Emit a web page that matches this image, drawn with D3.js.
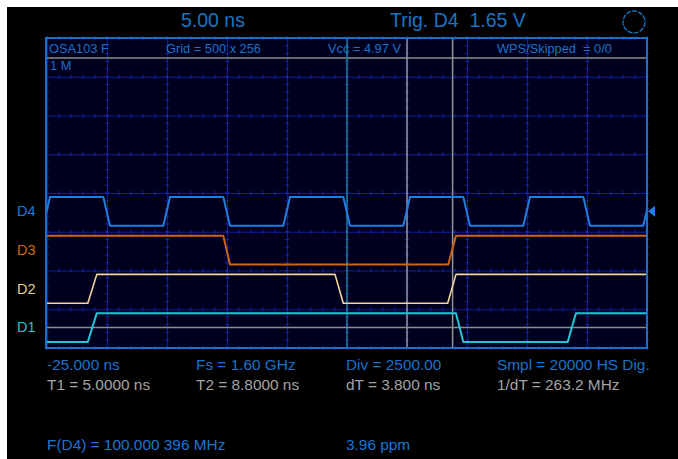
<!DOCTYPE html>
<html><head><meta charset="utf-8">
<script src="https://cdn.jsdelivr.net/npm/d3@7"></script>
<style>
html,body{margin:0;padding:0;background:#fff;}
svg{display:block;}
text{font-family:"Liberation Sans",Arial,sans-serif;}
</style></head><body>
<svg id="scope" width="678" height="459"></svg>
<script>
// Time base: 10 divisions of 5 ns, trigger at 0 ns
const timeDivisions = [-25, -20, -15, -10, -5, 0, 5, 10, 15, 20, 25];
const levelDivisions = [0, 1, 2, 3, 4, 5, 6, 7, 8];

// Digital channels, bottom to top
const channelNames = ["D1", "D2", "D3", "D4"];
const initialLevels = [0, 0, 1, 0];
// Logic transitions per channel: [start, end] in ns
const d1Edges = [[-21.60, -20.85], [9.08, 9.69], [18.39, 19.08]];
const d2Edges = [[-21.60, -20.85], [-1.00, -0.31], [8.39, 9.08]];
const d3Edges = [[-10.31, -9.75], [8.44, 9.08]];
const d4Edges = [[-25.31, -24.75], [-20.31, -19.75], [-15.31, -14.75], [-10.31, -9.75],
                 [-5.31, -4.75], [-0.31, 0.25], [4.69, 5.25], [9.69, 10.25],
                 [14.69, 15.25], [19.69, 20.25], [24.69, 25.25]];
const channelEdges = [d1Edges, d2Edges, d3Edges, d4Edges];

// Cursors (ns)
const cursorTimes = [5.0, 8.8];
const triggerTime = 0;

// Readout texts
const topTexts = ["5.00 ns", "Trig. D4  1.65 V"];
const statusTexts = ["OSA103 F", "Grid = 500 x 256", "Vcc = 4.97 V", "WPS/Skipped  = 0/0"];
const memoryText = "1 M";
const acqTexts = ["-25.000 ns", "Fs = 1.60 GHz", "Div = 2500.00", "Smpl = 20000 HS Dig."];
const cursorTexts = ["T1 = 5.0000 ns", "T2 = 8.8000 ns", "dT = 3.800 ns", "1/dT = 263.2 MHz"];
const freqTexts = ["F(D4) = 100.000 396 MHz", "3.96 ppm"];

// ---- layout ----
const plot = {left: 47, right: 647, top: 38, bottom: 348};
const lane = {low: 0.155, high: 0.9, mid: 0.53};
const colors = {
  D1: "#22c6d6", D2: "#f2d6a0", D3: "#cc6416", D4: "#1d7ee0"
};
const labelColors = {
  D1: "#22c8d2", D2: "#e6cc94", D3: "#d2680e", D4: "#1c7ad8"
};
const blueText = "#1a72c8";
const grayText = "#a4a4a4";

const svg = d3.select("#scope");
svg.append("rect").attr("x", 7).attr("y", 7).attr("width", 671).attr("height", 452).attr("fill", "#000");

const x = d3.scaleLinear().domain([-25, 25]).range([plot.left, plot.right]);
const y = d3.scaleLinear().domain([0, 8]).range([plot.bottom, plot.top]);

// screen background
svg.append("rect")
  .attr("x", plot.left).attr("y", plot.top)
  .attr("width", plot.right - plot.left).attr("height", plot.bottom - plot.top)
  .attr("fill", "#00001e");

// major grid through axes
const gridColor = "#0f1c96";
const vGrid = svg.append("g")
  .attr("transform", `translate(0,${plot.bottom})`)
  .call(d3.axisBottom(x).tickValues(timeDivisions).tickSize(-(plot.bottom - plot.top)).tickFormat(""));
const hGrid = svg.append("g")
  .attr("transform", `translate(${plot.left},0)`)
  .call(d3.axisLeft(y).tickValues(levelDivisions).tickSize(-(plot.right - plot.left)).tickFormat(""));
[vGrid, hGrid].forEach(g => {
  g.select(".domain").remove();
  g.selectAll(".tick line").attr("stroke", gridColor).attr("stroke-width", 1);
});

// minor ticks along every grid line (5 per division)
const minorT = d3.range(-25, 25.001, 1);
const minorV = d3.range(0, 8.001, 0.2);
const minor = svg.append("g").attr("stroke", "#1426a8").attr("stroke-width", 1);
levelDivisions.forEach(lv => {
  minor.selectAll(null).data(minorT).join("line")
    .attr("x1", d => x(d)).attr("x2", d => x(d))
    .attr("y1", y(lv) - 2).attr("y2", y(lv) + 2);
});
timeDivisions.forEach(tv => {
  minor.selectAll(null).data(minorV).join("line")
    .attr("x1", x(tv) - 2).attr("x2", x(tv) + 2)
    .attr("y1", d => y(d)).attr("y2", d => y(d));
});

// status bar separator
const statusLineY = 58;
svg.append("line")
  .attr("x1", plot.left).attr("x2", plot.right)
  .attr("y1", statusLineY).attr("y2", statusLineY)
  .attr("stroke", "#8c8c8c").attr("stroke-width", 1.5);

// trigger time line
svg.append("line")
  .attr("x1", x(triggerTime)).attr("x2", x(triggerTime))
  .attr("y1", plot.top).attr("y2", plot.bottom)
  .attr("stroke", "#1a7e92").attr("stroke-width", 1.5);

// T1 / T2 cursors
svg.append("g").selectAll("line").data(cursorTimes).join("line")
  .attr("x1", d => x(d)).attr("x2", d => x(d))
  .attr("y1", plot.top).attr("y2", plot.bottom)
  .attr("stroke", "#959595").attr("stroke-width", 1.5);

// D1 threshold reference
svg.append("line")
  .attr("x1", plot.left).attr("x2", plot.right)
  .attr("y1", y(0 + lane.mid)).attr("y2", y(0 + lane.mid))
  .attr("stroke", "#8c8c8c").attr("stroke-width", 1.5);

// clip for traces
svg.append("clipPath").attr("id", "screen").append("rect")
  .attr("x", plot.left).attr("y", plot.top)
  .attr("width", plot.right - plot.left).attr("height", plot.bottom - plot.top);

function tracePoints(initial, edges) {
  const pts = [];
  let lvl = initial;
  pts.push([-26, lvl]);
  edges.forEach(([s, e]) => {
    pts.push([s, lvl]);
    lvl = 1 - lvl;
    pts.push([e, lvl]);
  });
  pts.push([26, lvl]);
  return pts;
}

const traces = svg.append("g").attr("clip-path", "url(#screen)");
channelNames.forEach((name, i) => {
  const pts = tracePoints(initialLevels[i], channelEdges[i]);
  const line = d3.line()
    .x(d => x(d[0]))
    .y(d => y(i + (d[1] ? lane.high : lane.low)));
  traces.append("path").datum(pts)
    .attr("d", line)
    .attr("fill", "none")
    .attr("stroke", colors[name])
    .attr("stroke-width", name === "D2" ? 1.6 : 2)
    .attr("stroke-linejoin", "round");
});

// screen border
svg.append("rect")
  .attr("x", plot.left - 1).attr("y", plot.top)
  .attr("width", plot.right - plot.left + 1).attr("height", plot.bottom - plot.top)
  .attr("fill", "none").attr("stroke", "#1c6ec6").attr("stroke-width", 2);

// channel labels
svg.append("g").selectAll("text").data(channelNames).join("text")
  .attr("x", 17)
  .attr("y", (d, i) => y(i + lane.mid) + 5)
  .attr("font-size", 14.5)
  .attr("fill", d => labelColors[d])
  .text(d => d);

// trigger level marker (D4)
const trigY = y(3 + lane.mid);
svg.append("path")
  .attr("d", `M${plot.right + 1},${trigY} L${plot.right + 8},${trigY - 5.5} L${plot.right + 8},${trigY + 5.5} Z`)
  .attr("fill", "#1d80ea");

// top readouts
const topBar = svg.append("g").attr("font-size", 19.5).attr("fill", "#1a74c6");
topBar.append("text").attr("x", 181).attr("y", 27).text(topTexts[0]);
topBar.append("text").attr("x", 390).attr("y", 27).style("white-space", "pre").text(topTexts[1]);
svg.append("circle").attr("cx", 634).attr("cy", 22).attr("r", 11)
  .attr("fill", "none").attr("stroke", "#1a74c6").attr("stroke-width", 1.3)
  .attr("stroke-dasharray", "5 1.2");

// status bar
const statusX = [49, 166, 328, 497];
svg.append("g").attr("font-size", 12.8).attr("fill", blueText)
  .selectAll("text").data(statusTexts).join("text")
  .attr("x", (d, i) => statusX[i]).attr("y", 53)
  .style("white-space", "pre")
  .text(d => d);
svg.append("text").attr("x", 50).attr("y", 70).attr("font-size", 12.8)
  .attr("fill", blueText).text(memoryText);

// bottom readouts
const colX = [47, 196, 346, 497];
const readFont = 15.4;
svg.append("g").attr("font-size", readFont).attr("fill", blueText)
  .selectAll("text").data(acqTexts).join("text")
  .attr("x", (d, i) => colX[i]).attr("y", 370).text(d => d);
svg.append("g").attr("font-size", readFont).attr("fill", grayText)
  .selectAll("text").data(cursorTexts).join("text")
  .attr("x", (d, i) => colX[i]).attr("y", 390).text(d => d);
svg.append("g").attr("font-size", readFont).attr("fill", "#1a76d2")
  .selectAll("text").data(freqTexts).join("text")
  .attr("x", (d, i) => [47, 346][i]).attr("y", 450).text(d => d);
</script>
</body></html>
